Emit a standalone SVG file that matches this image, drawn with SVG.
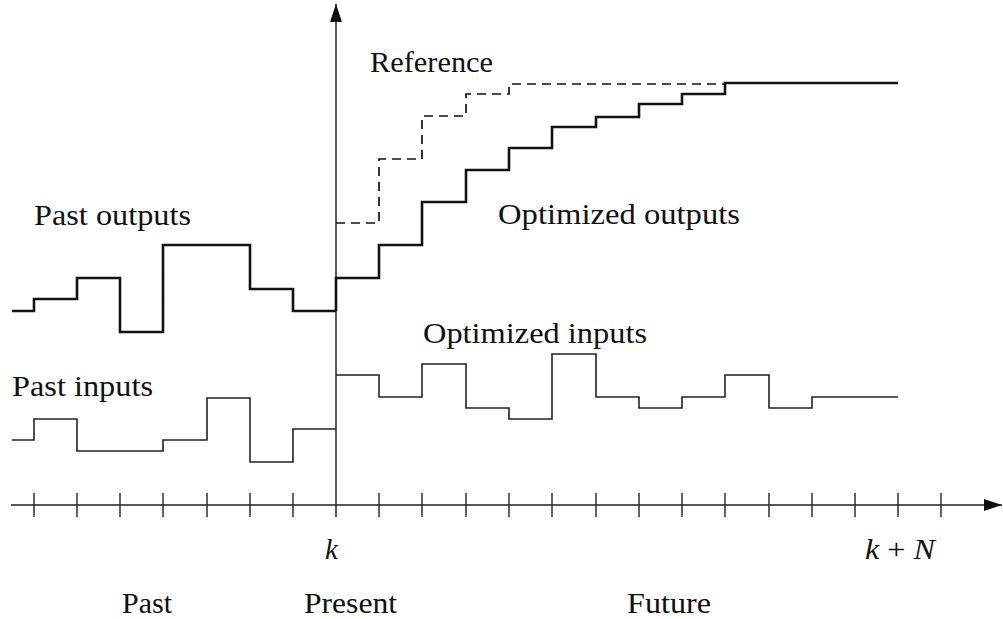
<svg xmlns="http://www.w3.org/2000/svg" width="1003" height="619" viewBox="0 0 1003 619">
<style>
.lbl{font-family:"Liberation Serif","Times New Roman",serif;font-size:29px;fill:#111}
.it{font-style:italic}
.thick{fill:none;stroke:#111;stroke-width:2.6;stroke-linejoin:miter}
.thin{fill:none;stroke:#222;stroke-width:1.6}
.dash{fill:none;stroke:#111;stroke-width:1.7;stroke-dasharray:9 6}
.axis{fill:none;stroke:#222;stroke-width:1.5}
.tick{stroke:#222;stroke-width:1.4}
</style>
<defs>
<marker id="ah" viewBox="0 0 18 12" refX="18" refY="6" markerWidth="18" markerHeight="12" markerUnits="userSpaceOnUse" orient="auto">
<path d="M0,0 L18,6 L0,12 Z" fill="#111"/>
</marker>
</defs>
<g id="axes">
<line class="axis" x1="11" y1="505" x2="1002" y2="505" marker-end="url(#ah)"/>
<line class="axis" x1="336" y1="517" x2="336" y2="4" marker-end="url(#ah)"/>
<g id="ticks">
<path class="tick" d="M34,493V517M77,493V517M120,493V517M163,493V517M207,493V517M250,493V517M293,493V517M379,493V517M422,493V517M466,493V517M509,493V517M552,493V517M596,493V517M639,493V517M682,493V517M725,493V517M769,493V517M812,493V517M855,493V517M898,493V517M941,493V517"/>
</g>
</g>
<g id="connectors">
<path id="past-outputs-line" class="thick" d="M12,311H34V299H77V278H120V332H163V245H250V289H293V311H336"/>
<path id="optimized-outputs-line" class="thick" d="M336,311V278H379V245H422V202H466V170H509V148H552V127H596V117H639V104H682V94H725V83H898"/>
<path id="reference-line" class="dash" d="M336,223H379V159H422V116H466V94H509V84H725"/>
<path id="past-inputs-line" class="thin" d="M12,440H34V419H77V451H163V440H207V398H250V462H293V429H336"/>
<path id="optimized-inputs-line" class="thin" d="M336,375H379V397H422V364H466V408H509V419H552V354H596V397H639V408H682V397H725V375H769V408H812V397H898"/>
</g>
<g id="label-reference"><text class="lbl" x="370" y="72" textLength="123" lengthAdjust="spacingAndGlyphs">Reference</text></g>
<g id="label-past-outputs"><text class="lbl" x="34" y="225" textLength="157" lengthAdjust="spacingAndGlyphs">Past outputs</text></g>
<g id="label-optimized-outputs"><text class="lbl" x="498" y="224" textLength="242" lengthAdjust="spacingAndGlyphs">Optimized outputs</text></g>
<g id="label-optimized-inputs"><text class="lbl" x="423" y="343" textLength="224" lengthAdjust="spacingAndGlyphs">Optimized inputs</text></g>
<g id="label-past-inputs"><text class="lbl" x="12" y="396" textLength="141" lengthAdjust="spacingAndGlyphs">Past inputs</text></g>
<g id="label-k"><text class="lbl it" x="325" y="559">k</text></g>
<g id="label-kN"><text class="lbl" x="865" y="559" textLength="70" lengthAdjust="spacingAndGlyphs"><tspan class="it">k</tspan> + <tspan class="it">N</tspan></text></g>
<g id="label-past"><text class="lbl" x="122" y="613" textLength="50" lengthAdjust="spacingAndGlyphs">Past</text></g>
<g id="label-present"><text class="lbl" x="304" y="613" textLength="93" lengthAdjust="spacingAndGlyphs">Present</text></g>
<g id="label-future"><text class="lbl" x="627" y="613" textLength="84" lengthAdjust="spacingAndGlyphs">Future</text></g>
</svg>
